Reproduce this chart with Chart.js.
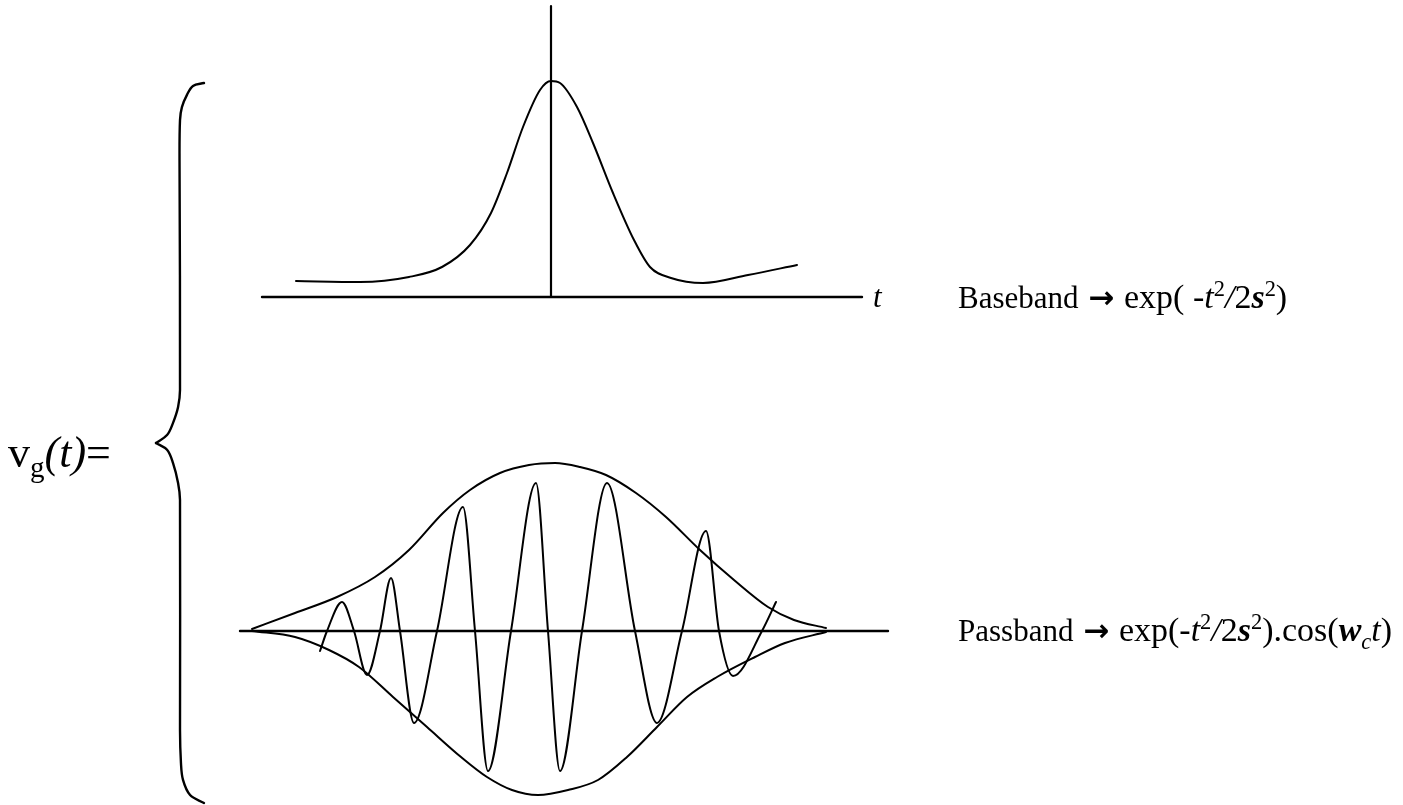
<!DOCTYPE html>
<html>
<head>
<meta charset="utf-8">
<script src="https://cdn.jsdelivr.net/npm/chart.js@4/dist/chart.umd.min.js"></script>
<style>
  html, body { margin: 0; padding: 0; background: #fff; }
  #wrap { position: relative; width: 1403px; height: 805px; overflow: hidden; }
  #wrap canvas { position: absolute; left: 0; top: 0; }
  .lbl {
    position: absolute;
    font-family: "Liberation Serif", "Times New Roman", serif;
    font-size: 31px;
    line-height: 31px;
    white-space: nowrap;
    color: #000;
  }
  .lbl sup, .lbl sub { font-size: 0.66em; line-height: 0; }
  .fx { font-size: 34px; }
  .arrow { font-family: "DejaVu Sans", sans-serif; font-weight: bold; font-size: 31px; margin: 0 2px; }
  .bi { font-weight: bold; font-style: italic; }
</style>
</head>
<body>
<div id="wrap">
  <canvas id="pulse" width="1403" height="805"></canvas>
  <div class="lbl" style="left:8px; top:431px; font-size:44px; line-height:44px;">v<sub>g</sub><i>(t)</i>=</div>
  <div class="lbl" style="left:873px; top:281px;"><i>t</i></div>
  <div class="lbl" style="left:958px; top:281px;">Baseband <span class="arrow">&#x2192;</span> <span class="fx">exp( -<i>t</i><sup>2</sup><i>/</i>2<span class="bi">s</span><sup>2</sup>)</span></div>
  <div class="lbl" style="left:958px; top:614px;">Passband <span class="arrow">&#x2192;</span> <span class="fx">exp(-<i>t</i><sup>2</sup><i>/</i>2<span class="bi">s</span><sup>2</sup>).cos(<span class="bi">w</span><sub><i>c</i></sub><i>t</i>)</span></div>
</div>
<script>
// baseband gaussian pulse (t, amplitude)
const baseT = [-2.55, -1.91, -1.42, -1.09, -0.81, -0.60, -0.44, -0.28, -0.11, 0, 0.09, 0.26, 0.42, 0.62, 0.83, 0.99, 1.20, 1.52, 1.97, 2.46];
const baseV = [0.08, 0.075, 0.10, 0.15, 0.26, 0.42, 0.62, 0.85, 1.035, 1.08, 1.07, 0.95, 0.77, 0.52, 0.285, 0.15, 0.095, 0.07, 0.11, 0.16];

// baseband axes
const baseAxisT = [-2.89, 3.11];
const baseAxisV = [0, 0];
const baseStemT = [0, 0];
const baseStemV = [0, 1.455];

// passband envelope, upper and lower
const envUpT = [-2.88, -2.45, -2.03, -1.65, -1.31, -0.97, -0.70, -0.40, -0.11, 0.15, 0.40, 0.66, 0.96, 1.26, 1.60, 1.94, 2.28, 2.54, 2.86];
const envUpV = [0.01, 0.09, 0.17, 0.27, 0.405, 0.59, 0.705, 0.79, 0.83, 0.84, 0.82, 0.78, 0.69, 0.57, 0.405, 0.255, 0.12, 0.055, 0.015];
const envLoT = [-2.88, -2.45, -2.11, -1.81, -1.47, -1.13, -0.79, -0.53, -0.28, -0.02, 0.28, 0.58, 0.87, 1.17, 1.47, 1.77, 2.15, 2.45, 2.86];
const envLoV = [0, -0.03, -0.095, -0.18, -0.33, -0.48, -0.63, -0.73, -0.795, -0.82, -0.795, -0.745, -0.63, -0.48, -0.33, -0.23, -0.13, -0.06, -0.005];

// modulated carrier: peaks, troughs and zero crossings
const carT = [-2.20, -2.13, -1.98, -1.86, -1.73, -1.60, -1.49, -1.40, -1.26, -1.03, -0.77, -0.65, -0.52, -0.29, -0.04, 0.08, 0.20, 0.42, 0.67, 0.95, 1.17, 1.42, 1.66, 1.79, 1.93, 2.22, 2.36];
const carV = [-0.10, 0, 0.145, 0, -0.22, 0, 0.265, 0, -0.46, 0, 0.62, 0, -0.70, 0, 0.74, 0, -0.70, 0, 0.74, 0, -0.46, 0, 0.50, 0, -0.225, 0, 0.145];

const passAxisT = [-3.0, 3.48];
const passAxisV = [0, 0];

// curly brace, drawn as two halves meeting at the tip
const braceUpU = [2.0, 1.54, 1.29, 1.08, 1.0, 0.98, 1.0, 0.92, 0.71, 0.46, 0];
const braceUpW = [1.0, 0.992, 0.967, 0.933, 0.897, 0.786, 0.147, 0.10, 0.056, 0.022, 0];
const braceLoU = [0, 0.46, 0.71, 0.92, 1.0, 1.0, 1.04, 1.125, 1.42, 2.0];
const braceLoW = [0, -0.019, -0.056, -0.111, -0.158, -0.797, -0.889, -0.936, -0.978, -1.0];

const zip = (xs, ys) => xs.map((x, i) => ({ x: x, y: ys[i] }));

function curve(xs, ys, xAxisID, yAxisID, width, smooth) {
  return {
    data: zip(xs, ys),
    xAxisID: xAxisID,
    yAxisID: yAxisID,
    showLine: true,
    borderColor: '#000',
    borderWidth: width,
    pointRadius: 0,
    fill: false,
    tension: smooth === 'monotone' ? 0 : smooth,
    cubicInterpolationMode: smooth === 'monotone' ? 'monotone' : 'default',
    borderCapStyle: 'round',
    borderJoinStyle: 'round'
  };
}

const hidden = (min, max) => ({ type: 'linear', display: false, min: min, max: max });

new Chart(document.getElementById('pulse'), {
  type: 'scatter',
  data: {
    datasets: [
      curve(baseAxisT, baseAxisV, 'xTop', 'yTop', 2.4, 0),
      curve(baseStemT, baseStemV, 'xTop', 'yTop', 2.2, 0),
      curve(baseT, baseV, 'xTop', 'yTop', 2, 'monotone'),
      curve(passAxisT, passAxisV, 'xBot', 'yBot', 2.4, 0),
      curve(envUpT, envUpV, 'xBot', 'yBot', 2, 'monotone'),
      curve(envLoT, envLoV, 'xBot', 'yBot', 2, 'monotone'),
      curve(carT, carV, 'xBot', 'yBot', 2, 'monotone'),
      curve(braceUpU, braceUpW, 'xBrace', 'yBrace', 2.4, 0.35),
      curve(braceLoU, braceLoW, 'xBrace', 'yBrace', 2.4, 0.35)
    ]
  },
  options: {
    responsive: false,
    devicePixelRatio: 1,
    animation: false,
    events: [],
    layout: { padding: 0 },
    plugins: { legend: { display: false }, tooltip: { enabled: false } },
    scales: {
      x: hidden(0, 1),
      y: hidden(0, 1),
      // baseband panel: 100 px per unit of t, 200 px per unit of amplitude
      xTop: hidden(-5.51, 8.52),
      yTop: hidden(-2.54, 1.485),
      // passband panel
      xBot: hidden(-5.40, 8.63),
      yBot: hidden(-0.87, 3.155),
      // brace
      xBrace: hidden(-6.5, 51.958),
      yBrace: hidden(-1.0056, 1.2306)
    }
  }
});
</script>
</body>
</html>
